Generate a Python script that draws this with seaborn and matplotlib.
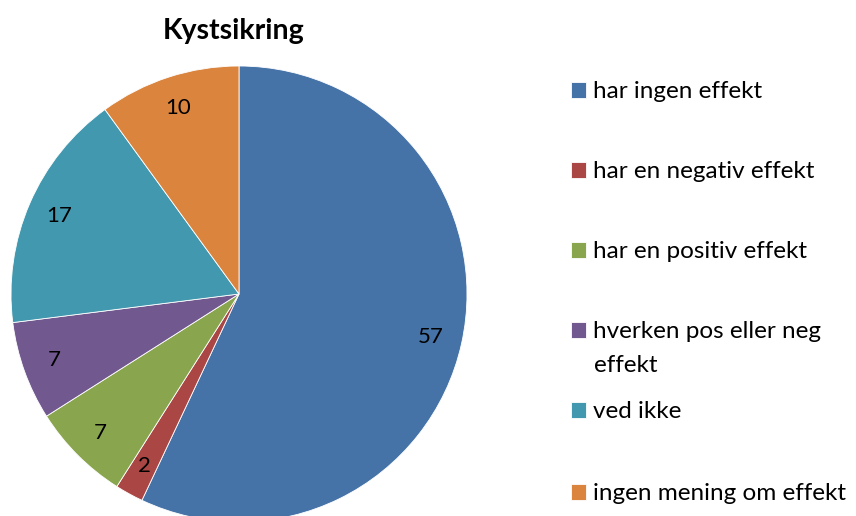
import matplotlib
matplotlib.use("Agg")
import matplotlib.pyplot as plt
import seaborn as sns

categories = ["har ingen effekt", "har en negativ effekt", "har en positiv effekt",
              "hverken pos eller neg effekt", "ved ikke", "ingen mening om effekt"]
values = [57, 2, 7, 7, 17, 10]
colors = ["#4572A7", "#AA4643", "#89A54E", "#71588F", "#4198AF", "#DB843D"]

sns.set_theme(style="white")
plt.rcParams["font.family"] = ["Lato", "DejaVu Sans"]
plt.rcParams["text.color"] = "black"

fig = plt.figure(figsize=(8.56, 5.16), dpi=100)
# pie is cut off a little at the bottom, like in the original
ax = fig.add_axes([11 / 856, -6 / 516, 456 / 856, 456 / 516])

total = sum(values)
wedges, texts, autotexts = ax.pie(
    values, colors=colors, startangle=90, counterclock=False,
    autopct=lambda p: f"{p * total / 100:.0f}", pctdistance=0.86,
    wedgeprops=dict(linewidth=0.6, edgecolor="white"),
    textprops=dict(fontsize=16, color="black"))
for w in wedges:
    w.set_clip_on(False)
ax.set_xlim(-1, 1)
ax.set_ylim(-1, 1)
ax.set_aspect("equal")
ax.axis("off")

fig.text(234 / 856, 1 - 31 / 516, "Kystsikring", ha="center", va="center",
         fontsize=20.5, fontweight="bold")

# legend: one entry per row, the long label wraps like in Excel
row_y = [92, 172, 252, 332, 412, 494]
for w, lab, y in zip(wedges, categories, row_y):
    first = lab
    rest = None
    if lab.startswith("hverken"):
        first, rest = "hverken pos eller neg", "effekt"
    leg = fig.legend([w], [first], loc="center left",
                     bbox_to_anchor=(571 / 856, 1 - y / 516), frameon=False,
                     fontsize=17.5, handlelength=0.6, handleheight=0.6,
                     handletextpad=0.3, borderpad=0, borderaxespad=0)
    for t in leg.get_texts():
        t.set_color("black")
    if rest:
        fig.text(594 / 856, 1 - (y + 34) / 516, rest, ha="left", va="center",
                 fontsize=17.5, color="black")

fig.savefig("out.png", dpi=100)
